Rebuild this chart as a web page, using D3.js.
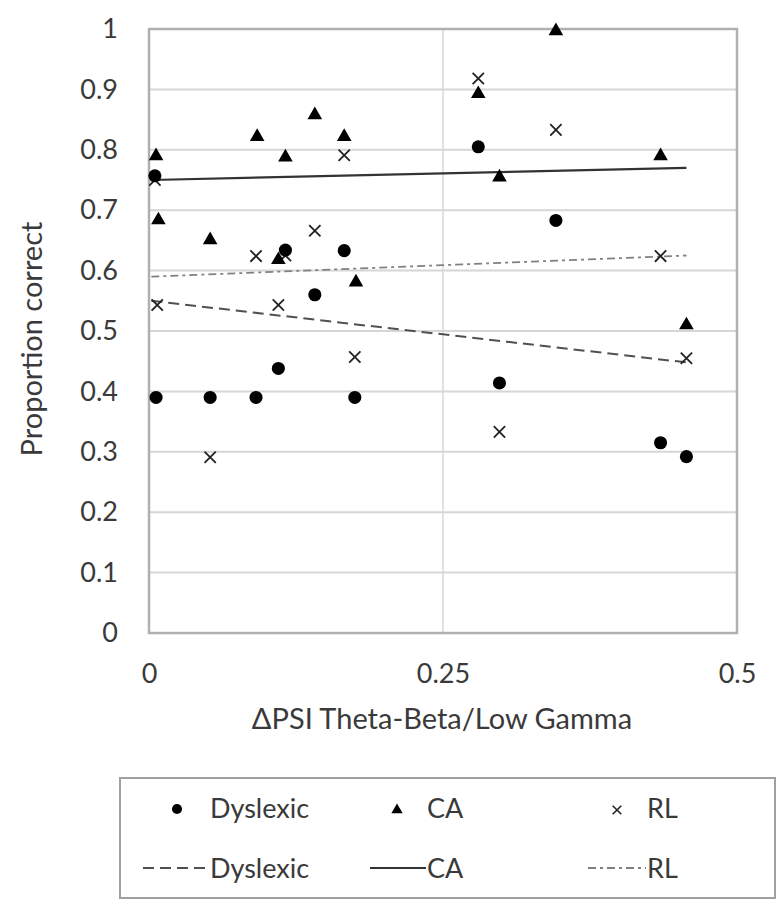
<!DOCTYPE html>
<html>
<head>
<meta charset="utf-8">
<script src="https://cdn.jsdelivr.net/npm/d3@7"></script>
<style>
  body { margin: 0; background: #fff; }
  text { font-family: Lato, "Open Sans", sans-serif; }
</style>
</head>
<body>
<div id="chart"></div>
<script>
// values
const dysX = [0.005, 0.006, 0.052, 0.091, 0.110, 0.116, 0.141, 0.166, 0.175, 0.280, 0.298, 0.346, 0.435, 0.457]
const dysY = [0.757, 0.390, 0.390, 0.390, 0.438, 0.634, 0.560, 0.633, 0.390, 0.805, 0.414, 0.683, 0.315, 0.292]
const caX = [0.006, 0.008, 0.052, 0.092, 0.110, 0.116, 0.141, 0.166, 0.176, 0.280, 0.298, 0.346, 0.435, 0.457]
const caY = [0.793, 0.687, 0.654, 0.825, 0.621, 0.791, 0.861, 0.825, 0.584, 0.896, 0.758, 1.000, 0.793, 0.513]
const rlX = [0.005, 0.007, 0.052, 0.091, 0.110, 0.116, 0.141, 0.166, 0.175, 0.280, 0.298, 0.346, 0.435, 0.457]
const rlY = [0.750, 0.543, 0.291, 0.624, 0.543, 0.625, 0.666, 0.791, 0.457, 0.918, 0.333, 0.833, 0.624, 0.455]

// trend line end points (x from, x to / y from, y to)
const trendX = [0.002, 0.457]
const dysTrend = [0.550, 0.448]
const caTrend = [0.750, 0.770]
const rlTrend = [0.590, 0.625]

const yTicks = [0, 0.1, 0.2, 0.3, 0.4, 0.5, 0.6, 0.7, 0.8, 0.9, 1]
const xTicks = [0, 0.25, 0.5]
const legendNames = ['Dyslexic', 'CA', 'RL']

const width = 782, height = 908
const margin = { top: 29, right: 45, bottom: 275, left: 149 }
const plotW = width - margin.left - margin.right
const plotH = height - margin.top - margin.bottom
const textColor = '#3a3a3a'

const svg = d3.select('#chart').append('svg')
    .attr('width', width)
    .attr('height', height)

const graph = svg.append('g')
    .attr('transform', `translate(${margin.left},${margin.top})`)

const x = d3.scaleLinear().domain([0, 0.5]).range([0, plotW])
const y = d3.scaleLinear().domain([0, 1]).range([plotH, 0])

// gridlines
graph.selectAll('.hgrid')
    .data(yTicks)
    .enter().append('line')
    .attr('x1', 0).attr('x2', plotW)
    .attr('y1', d => y(d)).attr('y2', d => y(d))
    .style('stroke', '#d6d6d6')
    .style('stroke-width', 2)

graph.selectAll('.vgrid')
    .data(xTicks)
    .enter().append('line')
    .attr('x1', d => x(d)).attr('x2', d => x(d))
    .attr('y1', 0).attr('y2', plotH)
    .style('stroke', '#d9d9d9')
    .style('stroke-width', 1.5)

// plot border
graph.append('rect')
    .attr('width', plotW).attr('height', plotH)
    .style('fill', 'none')
    .style('stroke', '#b0b0b0')
    .style('stroke-width', 2.5)

// axes, only the tick labels are visible
const axeX = d3.axisBottom(x).tickValues(xTicks).tickSize(0).tickPadding(31).tickFormat(d3.format('~g'))
const axeY = d3.axisLeft(y).tickValues(yTicks).tickSize(0).tickPadding(31).tickFormat(d3.format('~g'))

const groupX = graph.append('g').attr('transform', `translate(0,${plotH})`).call(axeX)
const groupY = graph.append('g').call(axeY)
for (const g of [groupX, groupY]) {
    g.select('.domain').remove()
    g.selectAll('text')
        .style('font-family', 'Lato, sans-serif')
        .style('font-size', '27px')
        .style('fill', textColor)
}

// trend lines
const trends = [
    { vals: dysTrend, dash: '11,6', color: '#505050', w: 2 },
    { vals: caTrend, dash: null, color: '#333', w: 2.2 },
    { vals: rlTrend, dash: '8,4,3,4', color: '#808080', w: 1.8 }
]
trends.forEach(t => {
    graph.append('line')
        .attr('x1', x(trendX[0])).attr('x2', x(trendX[1]))
        .attr('y1', y(t.vals[0])).attr('y2', y(t.vals[1]))
        .style('stroke', t.color)
        .style('stroke-width', t.w)
        .style('stroke-dasharray', t.dash)
})

// markers
const circle = d3.symbol().type(d3.symbolCircle).size(135)
const tri = d3.symbol().type(d3.symbolTriangle).size(92)
const times = d3.symbol().type(d3.symbolTimes).size(85)

const zip = (xs, ys) => xs.map((v, i) => ({ x: v, y: ys[i] }))

graph.selectAll('.rl')
    .data(zip(rlX, rlY))
    .enter().append('path')
    .attr('d', times)
    .attr('transform', d => `translate(${x(d.x)},${y(d.y)})`)
    .style('fill', 'none')
    .style('stroke', '#222')
    .style('stroke-width', 1.8)

graph.selectAll('.ca')
    .data(zip(caX, caY))
    .enter().append('path')
    .attr('d', tri)
    .attr('transform', d => `translate(${x(d.x)},${y(d.y) + 2})`)
    .style('fill', '#000')

graph.selectAll('.dys')
    .data(zip(dysX, dysY))
    .enter().append('path')
    .attr('d', circle)
    .attr('transform', d => `translate(${x(d.x)},${y(d.y)})`)
    .style('fill', '#000')

// axis titles
svg.append('text')
    .attr('x', margin.left + x(0.25) - 1)
    .attr('y', 729)
    .attr('text-anchor', 'middle')
    .style('font-size', '29px')
    .style('fill', textColor)
    .text('ΔPSI Theta-Beta/Low Gamma')

svg.append('text')
    .attr('transform', `translate(42,339) rotate(-90)`)
    .attr('text-anchor', 'middle')
    .style('font-size', '29px')
    .style('fill', textColor)
    .text('Proportion correct')

// legend
const legend = svg.append('g')
legend.append('rect')
    .attr('x', 120).attr('y', 778)
    .attr('width', 655).attr('height', 120)
    .style('fill', '#fff')
    .style('stroke', '#a0a0a0')
    .style('stroke-width', 2)

const colX = [210, 427, 647]
const row1 = 809, row2 = 868
const smallCircle = d3.symbol().type(d3.symbolCircle).size(80)
const smallTri = d3.symbol().type(d3.symbolTriangle).size(55)
const smallTimes = d3.symbol().type(d3.symbolTimes).size(50)

legend.append('path').attr('d', smallCircle)
    .attr('transform', `translate(${colX[0] - 33},${row1})`).style('fill', '#000')
legend.append('path').attr('d', smallTri)
    .attr('transform', `translate(${colX[1] - 30},${row1 + 1})`).style('fill', '#000')
legend.append('path').attr('d', smallTimes)
    .attr('transform', `translate(${colX[2] - 30},${row1 + 1})`)
    .style('fill', 'none').style('stroke', '#222').style('stroke-width', 1.6)

const lineStart = [143, 370, 588]
trends.forEach((t, i) => {
    legend.append('line')
        .attr('x1', lineStart[i]).attr('x2', colX[i] - 1)
        .attr('y1', row2).attr('y2', row2)
        .style('stroke', t.color)
        .style('stroke-width', t.w)
        .style('stroke-dasharray', t.dash)
})

legendNames.forEach((n, i) => {
    legend.append('text').attr('x', colX[i]).attr('y', 818)
        .style('font-size', '27px').style('fill', textColor).text(n)
    legend.append('text').attr('x', colX[i]).attr('y', 878)
        .style('font-size', '27px').style('fill', textColor).text(n)
})
</script>
</body>
</html>
